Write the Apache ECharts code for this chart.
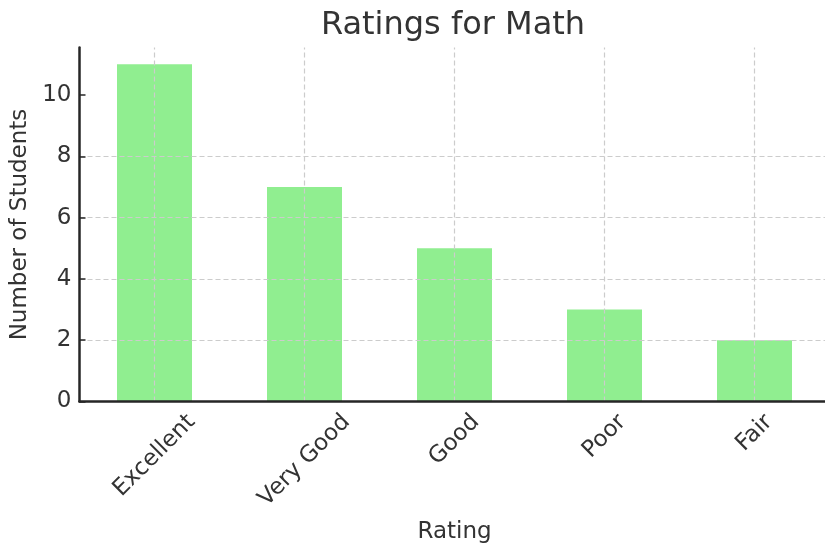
<!DOCTYPE html>
<html>
<head>
<meta charset="utf-8">
<script src="https://cdn.jsdelivr.net/npm/echarts@6/dist/echarts.min.js"></script>
<style>
  html, body { margin: 0; padding: 0; background: #fff; }
  #chart { width: 825px; height: 548px; }
</style>
</head>
<body>
<div id="chart"></div>
<script>
const categories = ['Excellent', 'Very Good', 'Good', 'Poor', 'Fair']
const counts = [11, 7, 5, 3, 2]
const yTicks = [0, 2, 4, 6, 8, 10]
const yMax = 11.55

const FONT = 'DejaVu Sans'
const TEXT = '#333333'
const GRID_LINE = '#cccccc'

// matplotlib centres rotated tick labels under the tick; ECharts anchors them,
// so pad each label by its own width to slide it straight down
const ctx = document.createElement('canvas').getContext('2d')
ctx.font = '23px "' + FONT + '"'
const rich = {}
categories.forEach((c, i) => {
  const w = ctx.measureText(c).width
  rich['c' + i] = {
    fontSize: 23, fontFamily: FONT, color: TEXT,
    padding: [w / 2, w / 2, 0, 0]
  }
})

const chart = echarts.init(document.getElementById('chart'), null, { renderer: 'canvas' })

chart.setOption({
  animation: false,
  backgroundColor: '#fff',
  textStyle: { fontFamily: FONT, color: TEXT },
  title: {
    text: 'Ratings for Math',
    left: 448,
    textAlign: 'center',
    top: 5,
    textStyle: { fontSize: 32, fontWeight: 'normal', color: TEXT, fontFamily: FONT }
  },
  // plot runs a few px past the right edge, as in the original figure
  grid: { left: 79.5, width: 750, top: 47.5, bottom: 146.5, outerBoundsMode: 'none' },
  xAxis: {
    type: 'category',
    data: categories,
    z: 6,
    name: 'Rating',
    nameLocation: 'middle',
    nameGap: 119,
    nameTextStyle: { fontSize: 23, color: TEXT, fontFamily: FONT },
    axisLine: { lineStyle: { color: '#262626', width: 2.5 } },
    axisTick: { inside: true, alignWithLabel: true, length: 6, lineStyle: { color: '#262626', width: 1.5 } },
    axisLabel: {
      rotate: 45,
      align: 'center',
      verticalAlign: 'middle',
      margin: 17,
      interval: 0,
      formatter: (v, i) => '{c' + i + '|' + v + '}',
      rich: rich
    },
    splitLine: { show: false }
  },
  yAxis: {
    type: 'value',
    min: 0,
    max: yMax,
    z: 5,
    name: 'Number of Students',
    nameLocation: 'middle',
    nameGap: 48,
    nameTextStyle: { fontSize: 23, color: TEXT, fontFamily: FONT },
    axisLine: { show: true, lineStyle: { color: '#262626', width: 2.5 } },
    axisTick: { show: true, inside: true, length: 6, customValues: yTicks, lineStyle: { color: '#262626', width: 1.5 } },
    axisLabel: { fontSize: 23, color: TEXT, fontFamily: FONT, margin: 8, customValues: yTicks },
    splitLine: {
      show: true, showMinLine: false, showMaxLine: false,
      lineStyle: { color: GRID_LINE, width: 1.2, type: [5, 3] }
    }
  },
  series: [{
    type: 'bar',
    data: counts,
    barWidth: '50%',
    itemStyle: { color: '#90ee90' },
    markLine: {
      silent: true,
      symbol: 'none',
      label: { show: false },
      lineStyle: { color: GRID_LINE, width: 1.2, type: [5, 3] },
      data: categories.map(c => ({ xAxis: c }))
    }
  }]
})
</script>
</body>
</html>
